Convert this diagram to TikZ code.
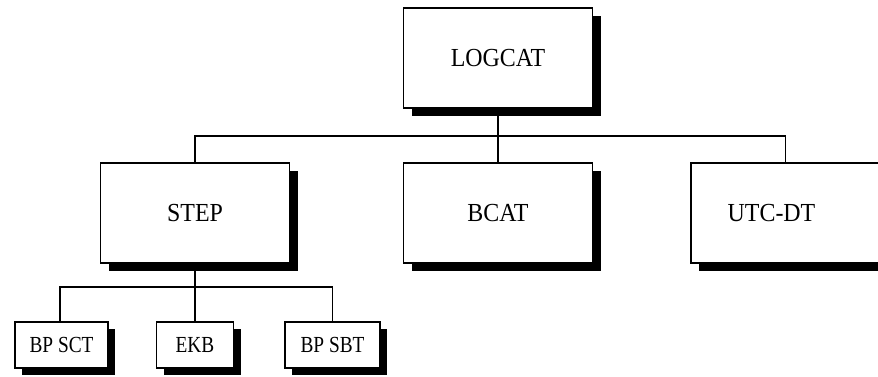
\documentclass[tikz,border=0pt]{standalone}
\usepackage{fontspec}
\setmainfont{Liberation Serif}
\newfontfamily\bigf[FakeStretch=0.92]{Liberation Serif}
\newfontfamily\smallf[FakeStretch=0.84]{Liberation Serif}
\usetikzlibrary{shadows}
\tikzset{
  bigfont/.style={font=\bigf\fontsize{26}{29}\selectfont},
  bigbox/.style={draw=black, fill=white, line width=1.6pt, minimum width=189pt, minimum height=100pt,
    inner sep=0pt, bigfont,
    drop shadow={shadow xshift=8pt, shadow yshift=-8pt, fill=black, opacity=1}},
  smallbox/.style={draw=black, fill=white, line width=1.6pt, minimum height=46pt,
    inner sep=0pt, font=\smallf\fontsize{23}{26}\selectfont,
    drop shadow={shadow xshift=7pt, shadow yshift=-7pt, fill=black, opacity=1}},
  conn/.style={draw=black, line width=1.4pt}
}
\begin{document}
\begin{tikzpicture}[x=1pt, y=-1pt]
\useasboundingbox (0,0) rectangle (878,377);
\clip (0,0) rectangle (878,377);
\coordinate (bus) at (0,136);
\coordinate (bus2) at (0,287);
\node[bigbox] (logcat) at (498,58) {LOGCAT};
\node[bigbox] (step) at (195,213) {STEP};
\node[bigbox] (bcat) at (498,213) {BCAT};
\node[bigbox, label={[xshift=-14pt, bigfont]center:UTC-DT}] (utc) at (785.5,213) {};
\node[smallbox, minimum width=93pt] (bpsct) at (61.5,345) {BP SCT};
\node[smallbox, minimum width=77pt] (ekb) at (195,345) {EKB};
\node[smallbox, minimum width=95pt] (bpsbt) at (332.5,345) {BP SBT};
\draw[conn] (logcat.south) -- (logcat.south |- bus);
\draw[conn] (step.north) |- (logcat.south |- bus) -| (utc.north);
\draw[conn] (logcat.south |- bus) -- (bcat.north);
\draw[conn] (step.south) -- (ekb.north);
\draw[conn] (bpsct.north -| 60,0) |- (step.south |- bus2) -| (bpsbt.north);
\end{tikzpicture}
\end{document}
